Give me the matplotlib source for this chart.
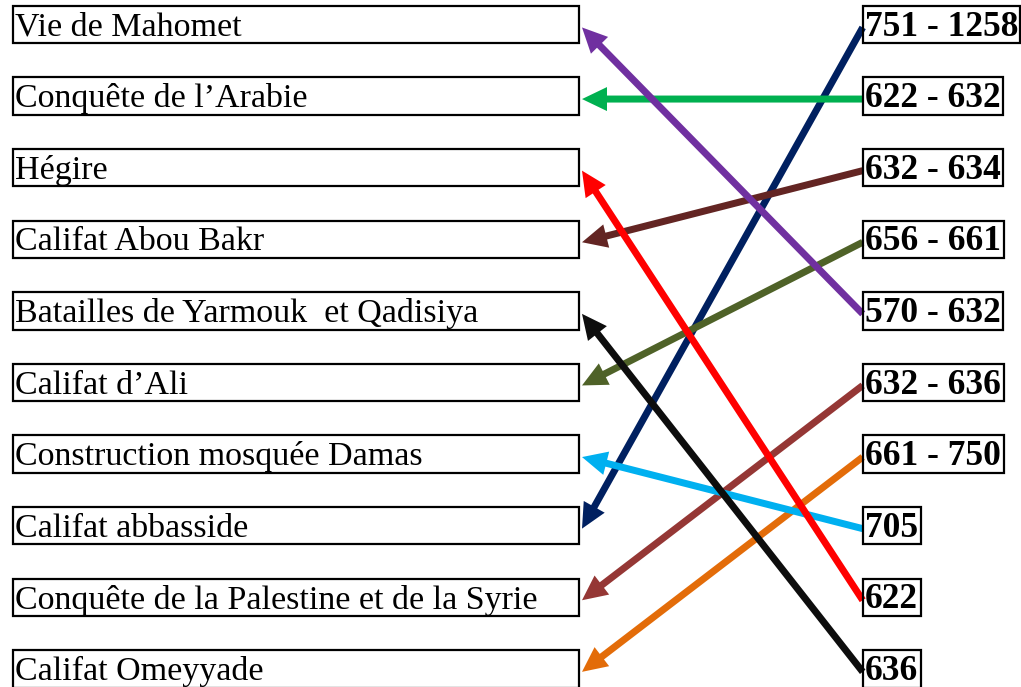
import matplotlib
matplotlib.use("Agg")
import matplotlib.pyplot as plt
from matplotlib.patches import Rectangle, FancyArrow

# evenements (colonne de gauche) et dates (colonne de droite)
evenements = ["Vie de Mahomet", "Conquête de l’Arabie", "Hégire", "Califat Abou Bakr",
              "Batailles de Yarmouk  et Qadisiya", "Califat d’Ali",
              "Construction mosquée Damas", "Califat abbasside",
              "Conquête de la Palestine et de la Syrie", "Califat Omeyyade"]
dates = ["751 - 1258", "622 - 632", "632 - 634", "656 - 661", "570 - 632",
         "632 - 636", "661 - 750", "705", "622", "636"]
# pour chaque date (ligne de droite) -> ligne de l'evenement a gauche
liens = [7, 1, 3, 5, 0, 8, 9, 6, 2, 4]
couleurs = ["#002060", "#00B050", "#632523", "#4F6228", "#7030A0",
            "#953735", "#E36C09", "#00B0F0", "#FF0000", "#0D0D0D"]

W, H = 1021, 687
fig = plt.figure(figsize=(W / 100, H / 100), dpi=100)
ax = fig.add_axes([0, 0, 1, 1])
ax.set_xlim(0, W)
ax.set_ylim(H, 0)
ax.axis("off")

haut0 = 5.7
pas = 71.6
h_boite = 37.5
x_g0, x_g1 = 12.5, 578.5
x_d0 = 862.7

def centre(i):
    return haut0 + pas * i + h_boite / 2

# boites de gauche
for i, ev in enumerate(evenements):
    top = haut0 + pas * i
    ax.add_patch(Rectangle((x_g0, top), x_g1 - x_g0, h_boite, fill=False,
                           ec="black", lw=1.6, zorder=3))
    ax.text(x_g0 + 2, top + 30, ev, fontsize=24.5, family="Liberation Serif",
            va="baseline", ha="left", zorder=4)

# boites de droite, largeur selon le texte
fig.canvas.draw()
r = fig.canvas.get_renderer()
for i, d in enumerate(dates):
    top = haut0 + pas * i
    t = ax.text(x_d0 + 2, top + 30, d, fontsize=25.5, fontweight="bold",
                family="Liberation Serif", va="baseline", ha="left", zorder=4)
    bb = t.get_window_extent(renderer=r)
    x1 = min(bb.x1 + 3, W - 1.5)
    ax.add_patch(Rectangle((x_d0, top), x1 - x_d0, h_boite, fill=False,
                           ec="black", lw=1.6, zorder=3))

# fleches
for i, j in enumerate(liens):
    x0, y0 = x_d0, centre(i) + 3
    x1, y1 = 582, centre(j) + 3
    ax.add_patch(FancyArrow(x0, y0, x1 - x0, y1 - y0, width=7, head_width=24,
                            head_length=25, length_includes_head=True,
                            color=couleurs[i], lw=0, zorder=2))

fig.savefig("out.png", dpi=100)
